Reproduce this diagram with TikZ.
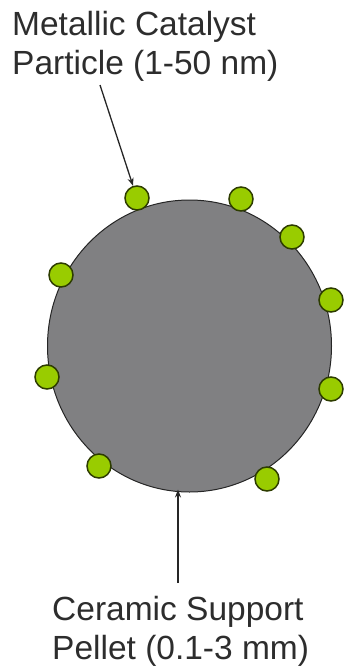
\documentclass[tikz,border=0pt]{standalone}
\usepackage{fontspec}
\setmainfont{Liberation Sans}
\usetikzlibrary{shapes,arrows,arrows.meta,positioning}
\definecolor{pelletgray}{RGB}{128,128,130}
\definecolor{catgreen}{RGB}{153,204,0}
\definecolor{catedge}{RGB}{45,60,0}
\definecolor{labelgray}{RGB}{45,45,45}

\begin{document}
\begin{tikzpicture}[
    x=1pt, y=-1pt,
    pellet/.style={draw=black!85, fill=pelletgray, ellipse, line width=1pt,
        minimum width=284pt, minimum height=292pt, inner sep=0pt},
    particle/.style={draw=catedge, fill=catgreen, circle, line width=1.5pt,
        minimum size=24pt, inner sep=0pt},
    mylabel/.style={align=left, inner sep=0pt, text=labelgray,
        font=\fontsize{33.5}{38.5}\selectfont},
    myedge/.style={->, line width=1.3pt, >={Stealth[length=8pt,width=6pt]}, draw=black!85}
]
\useasboundingbox (0,0) rectangle (349,669);

\node[pellet] (P) at (189.5,346) {};
\foreach \n/\px/\py in {1/137/198, 2/241/199, 3/292/237, 4/61/275, 5/331/300,
                        6/47/377, 7/331/389, 8/99/466, 9/267/479}
    \node[particle] (p\n) at (\px,\py) {};

\node[mylabel, anchor=north west] (metal) at (12,11.5) {Metallic Catalyst\\Particle (1-50 nm)};
\node[mylabel, anchor=north west] (support) at (52,596.5) {Ceramic Support\\Pellet (0.1-3 mm)};

\coordinate (mtail) at (100,85);
\coordinate (stail) at (178,583);
\draw[myedge] (mtail) -- (p1);
\draw[myedge] (stail) -- ([yshift=3pt]stail |- P.south);
\end{tikzpicture}
\end{document}
